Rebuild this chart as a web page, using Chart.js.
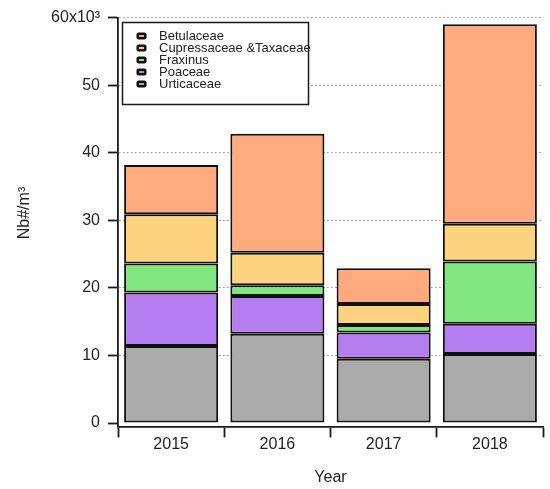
<!DOCTYPE html>
<html>
<head>
<meta charset="utf-8">
<script src="https://cdn.jsdelivr.net/npm/chart.js@4.4.1/dist/chart.umd.min.js"></script>
<style>
html,body{margin:0;padding:0;background:#fff;}
#wrap{width:550px;height:489px;}
</style>
</head>
<body>
<div id="wrap"><canvas id="c" width="550" height="489"></canvas></div>
<script>
const years = ['2015', '2016', '2017', '2018'];
const urticaceae = [11.4, 13.2, 9.5, 10.2];
const poaceae = [7.9, 5.6, 3.9, 4.5];
const fraxinus = [4.3, 1.6, 1.1, 9.2];
const cupressaceae = [7.3, 4.8, 3.1, 5.6];
const betulaceae = [7.3, 17.6, 5.3, 29.5];
const yTicks = [0, 10, 20, 30, 40, 50, 60];
const seriesNames = ['Urticaceae', 'Poaceae', 'Fraxinus', 'Cupressaceae &Taxaceae', 'Betulaceae'];
const seriesColors = ['#aaaaaa', '#b47ef0', '#80e67e', '#fed37f', '#fdab7e'];
const seriesValues = [urticaceae, poaceae, fraxinus, cupressaceae, betulaceae];

const FONT = "'Liberation Sans', Arial, sans-serif";

const datasets = seriesNames.map((n, i) => ({
  label: n,
  data: seriesValues[i],
  backgroundColor: seriesColors[i],
  borderColor: '#111111',
  borderWidth: 2,
  borderSkipped: false,
  barPercentage: 0.885,
  categoryPercentage: 1.0
}));

const boxLegend = {
  id: 'boxLegend',
  afterDraw(chart) {
    const ctx = chart.ctx;
    ctx.save();
    const x0 = 122.5, y0 = 22.5, w = 186, h = 82;
    ctx.fillStyle = '#fff';
    ctx.fillRect(x0, y0, w, h);
    ctx.strokeStyle = '#1a1a1a';
    ctx.lineWidth = 1.5;
    ctx.strokeRect(x0, y0, w, h);
    const items = chart.data.datasets.slice().reverse();
    ctx.font = '13px ' + FONT;
    ctx.textBaseline = 'middle';
    ctx.textAlign = 'left';
    items.forEach((ds, i) => {
      const cy = 36 + i * 12;
      ctx.fillStyle = '#111';
      ctx.beginPath();
      if (ctx.roundRect) ctx.roundRect(136.5, cy - 3.5, 10, 7, 2); else ctx.rect(136.5, cy - 3.5, 10, 7);
      ctx.fill();
      ctx.fillStyle = ds.backgroundColor;
      ctx.fillRect(139, cy - 1, 5, 2);
      ctx.fillStyle = '#222';
      ctx.fillText(ds.label, 159, cy + 0.5);
    });
    ctx.restore();
  }
};

const yTitle = {
  id: 'yTitle',
  afterDraw(chart) {
    const ctx = chart.ctx;
    ctx.save();
    ctx.translate(25, 213);
    ctx.rotate(-Math.PI / 2);
    ctx.font = '16px ' + FONT;
    ctx.fillStyle = '#222';
    ctx.textAlign = 'center';
    ctx.textBaseline = 'middle';
    ctx.fillText('Nb#/m\u00B3', 0, 0);
    ctx.restore();
  }
};

new Chart(document.getElementById('c'), {
  type: 'bar',
  data: { labels: years, datasets: datasets },
  options: {
    responsive: false,
    animation: false,
    devicePixelRatio: 1,
    layout: { padding: { top: 16, right: 7, bottom: 0, left: 0 } },
    plugins: { legend: { display: false }, tooltip: { enabled: false }, title: { display: false } },
    scales: {
      x: {
        stacked: true,
        grid: { display: true, drawOnChartArea: false, drawTicks: true, tickLength: 11, tickColor: '#1a1a1a', tickWidth: 1.8, offset: true },
        border: { display: true, color: '#1a1a1a', width: 1.8 },
        ticks: { color: '#222', font: { family: FONT, size: 16 }, padding: -2 },
        title: { display: true, text: 'Year', color: '#222', font: { family: FONT, size: 16 }, padding: { top: 10, bottom: 2 } },
        afterFit(axis) { axis.height = 62.6; }
      },
      y: {
        stacked: true,
        min: -0.5,
        max: 60,
        afterBuildTicks(axis) { axis.ticks = yTicks.map(v => ({ value: v })); },
        grid: {
          display: true, drawOnChartArea: true, drawTicks: true, tickLength: 10,
          color: (c) => (c.tick && c.tick.value === 0) ? 'rgba(0,0,0,0)' : '#a8a8a8',
          lineWidth: 1, tickColor: '#1a1a1a', tickWidth: 1.8
        },
        border: { display: true, color: '#1a1a1a', width: 1.8, dash: [2, 2] },
        ticks: {
          color: '#222', font: { family: FONT, size: 16 }, padding: 8,
          callback: (v) => v === 60 ? '60x10\u00B3' : String(v)
        },
        afterFit(axis) { axis.width = 118; }
      }
    }
  },
  plugins: [boxLegend, yTitle]
});
</script>
</body>
</html>
